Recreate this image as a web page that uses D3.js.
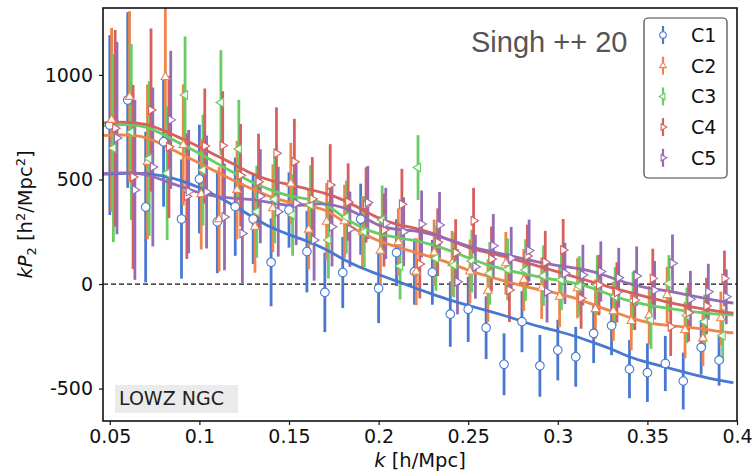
<!DOCTYPE html>
<html>
<head>
<meta charset="utf-8">
<script src="https://cdn.jsdelivr.net/npm/d3@7"></script>
<style>
  html, body { margin: 0; padding: 0; background: #fff; }
  svg { display: block; }
</style>
</head>
<body>
<svg id="chart" width="756" height="473"></svg>
<script>
// ---------------- data ----------------
const kBins = [0.05,0.06,0.07,0.08,0.09,0.10,0.11,0.12,0.13,0.14,0.15,0.16,0.17,0.18,0.19,0.20,0.21,0.22,0.23,0.24,0.25,0.26,0.27,0.28,0.29,0.30,0.31,0.32,0.33,0.34,0.35,0.36,0.37,0.38,0.39];
const seriesNames = ["C1","C2","C3","C4","C5"];
const seriesColors = ["#4878d0","#ee854a","#6acc64","#d65f5f","#956cb4"];
const seriesMarkers = ["circle","up","left","right","right"];
const kOffsets = [0, 0.001, 0.002, 0.003, 0.004];

const c1Values = [760,880,368,680,311,502,297,370,311,104,354,155,-40,55,310,-21,150,59,56,-144,-121,-209,-384,-180,-391,-316,-348,-236,-199,-407,-424,-380,-464,-303,-364];
const c1Errors = [430,420,360,310,285,260,245,235,215,210,180,195,190,170,170,166,160,158,155,156,156,150,148,146,148,145,143,142,141,139,140,132,136,130,122];
const c2Values = [785,895,584,990,665,430,310,450,274,362,480,260,298,300,250,159,200,59,150,99,60,-32,99,20,-20,-61,-20,-120,-130,-177,-150,-53,-220,-260,-164];
const c2Errors = [440,410,370,330,290,265,250,235,220,210,195,190,185,175,170,165,162,160,158,155,153,150,150,148,147,145,143,142,141,140,140,135,135,132,128];
const c3Values = [650,727,600,530,904,545,868,646,346,405,330,378,211,320,250,306,86,557,123,91,110,51,70,67,40,20,-10,-5,-60,-80,-172,3,-150,-180,-247];
const c3Errors = [450,420,370,320,280,265,250,235,220,210,195,190,185,175,170,165,160,155,155,155,150,150,148,147,145,145,143,142,141,140,138,135,133,130,128];
const c4Values = [745,512,832,656,420,660,662,520,489,625,585,407,474,392,378,258,381,96,200,150,303,120,-29,134,104,163,-68,-5,-40,-77,27,-204,-137,-105,27];
const c4Errors = [470,440,390,340,300,275,260,245,230,220,205,200,195,185,180,175,170,165,162,160,157,155,153,150,150,148,146,145,144,143,142,140,138,135,133];
const c5Values = [698,450,560,785,442,440,321,242,420,346,386,211,274,262,390,290,250,287,282,11,83,183,123,160,-37,51,43,60,30,38,-30,99,-73,-37,-61];
const c5Errors = [460,430,380,330,295,270,255,240,225,215,200,195,190,180,175,170,165,160,158,156,153,152,150,148,147,146,145,144,143,142,140,138,136,134,131];

const modelK = [0.046,0.05,0.06,0.07,0.08,0.09,0.10,0.11,0.12,0.13,0.14,0.15,0.16,0.17,0.18,0.19,0.20,0.21,0.22,0.23,0.24,0.25,0.26,0.27,0.28,0.29,0.30,0.31,0.32,0.33,0.34,0.35,0.36,0.37,0.38,0.39,0.398];
const c1Model = [525,527,530,530,518,495,462,420,372,318,268,236,205,170,118,78,45,14,-18,-48,-78,-103,-125,-150,-178,-205,-225,-250,-280,-310,-350,-375,-398,-420,-442,-460,-472];
const c2Model = [710,712,714,705,665,620,578,535,490,452,415,390,375,360,300,245,205,178,153,128,100,65,40,15,-8,-27,-45,-67,-100,-130,-160,-185,-198,-205,-213,-228,-234];
const c3Model = [755,760,765,755,715,668,626,575,528,483,448,420,408,390,320,270,238,222,210,188,160,125,92,70,50,33,18,5,-20,-55,-82,-100,-115,-127,-137,-145,-148];
const c4Model = [770,773,775,768,735,695,656,612,570,523,493,476,455,435,405,360,312,285,268,245,210,172,152,133,108,83,58,33,8,-18,-40,-62,-85,-102,-118,-132,-139];
const c5Model = [528,530,532,528,495,465,435,415,410,405,390,372,380,386,370,330,275,260,256,238,210,180,160,143,122,102,88,77,60,30,0,-20,-30,-48,-65,-82,-91];

const xTicks = [0.05,0.1,0.15,0.2,0.25,0.3,0.35,0.4];
const xTickLabels = ["0.05","0.1","0.15","0.2","0.25","0.3","0.35","0.4"];
const yTicks = [-500,0,500,1000];
const yTickLabels = ["-500","0","500","1000"];

const seriesValues = [c1Values,c2Values,c3Values,c4Values,c5Values];
const seriesErrors = [c1Errors,c2Errors,c3Errors,c4Errors,c5Errors];
const seriesModels = [c1Model,c2Model,c3Model,c4Model,c5Model];

// ---------------- layout ----------------
const W = 756, H = 473;
const L = 103, R = 737, T = 8, B = 421;
const FONT = "'DejaVu Sans', sans-serif";

const svg = d3.select("#chart");
const x = d3.scaleLinear().domain([0.0462, 0.4]).range([L, R]);
const y = d3.scaleLinear().domain([-655, 1320]).range([B, T]);

svg.append("defs").append("clipPath").attr("id","plotclip")
  .append("rect").attr("x",L).attr("y",T).attr("width",R-L).attr("height",B-T);

const plot = svg.append("g").attr("clip-path","url(#plotclip)");

// zero line
plot.append("line")
  .attr("x1",L).attr("x2",R).attr("y1",y(0)).attr("y2",y(0))
  .attr("stroke","#111").attr("stroke-width",1.3).attr("stroke-dasharray","5,3");

function markerPath(type, size) {
  if (type === "circle") return d3.symbol().type(d3.symbolCircle).size(size)();
  return d3.symbol().type(d3.symbolTriangle).size(size * 0.55)();
}
function markerRotate(type) {
  if (type === "left") return -90;
  if (type === "right") return 90;
  return 0;
}

// error bars per series
seriesNames.forEach((name, si) => {
  const g = plot.append("g");
  const pts = kBins.map((k, i) => ({k: k + kOffsets[si], v: seriesValues[si][i], e: seriesErrors[si][i]}));
  g.selectAll("line.err").data(pts).join("line")
    .attr("class","err")
    .attr("x1", d => x(d.k)).attr("x2", d => x(d.k))
    .attr("y1", d => y(d.v + d.e)).attr("y2", d => y(d.v - d.e))
    .attr("stroke", seriesColors[si]).attr("stroke-width", 2.8);
});

// model lines
const line = d3.line().x(d => x(d[0])).y(d => y(d[1])).curve(d3.curveBasis);
seriesNames.forEach((name, si) => {
  plot.append("path")
    .datum(modelK.map((k, i) => [k, seriesModels[si][i]]))
    .attr("d", line)
    .attr("fill","none")
    .attr("stroke", seriesColors[si])
    .attr("stroke-width", 2.8);
});

// markers
seriesNames.forEach((name, si) => {
  const pts = kBins.map((k, i) => ({k: k + kOffsets[si], v: seriesValues[si][i]}));
  plot.append("g").selectAll("path").data(pts).join("path")
    .attr("d", markerPath(seriesMarkers[si], 58))
    .attr("transform", d => `translate(${x(d.k)},${y(d.v)}) rotate(${markerRotate(seriesMarkers[si])})`)
    .attr("fill","#fff")
    .attr("stroke", seriesColors[si]).attr("stroke-width", 1.1);
});

// axes
const xAxis = d3.axisBottom(x).tickValues(xTicks).tickFormat((d,i) => xTickLabels[i]).tickSize(4).tickPadding(5).tickSizeOuter(0);
const yAxis = d3.axisLeft(y).tickValues(yTicks).tickFormat((d,i) => yTickLabels[i]).tickSize(4).tickPadding(6).tickSizeOuter(0);

const gx = svg.append("g").attr("transform",`translate(0,${B})`).call(xAxis);
const gy = svg.append("g").attr("transform",`translate(${L},0)`).call(yAxis);
[gx, gy].forEach(g => {
  g.select(".domain").remove();
  g.selectAll(".tick line").attr("stroke","#111").attr("stroke-width",1.2);
  g.selectAll(".tick text").attr("fill","#111").style("font-family",FONT).style("font-size","19px");
});

// frame
svg.append("rect").attr("x",L).attr("y",T).attr("width",R-L).attr("height",B-T)
  .attr("fill","none").attr("stroke","#111").attr("stroke-width",1.6);

// axis labels
const xl = svg.append("text").attr("x",(L+R)/2).attr("y",467).attr("text-anchor","middle")
  .style("font-family",FONT).style("font-size","19.5px").attr("fill","#111");
xl.append("tspan").attr("font-style","italic").text("k");
xl.append("tspan").text(" [h/Mpc]");

const yl = svg.append("text").attr("transform",`translate(32,${(T+B)/2}) rotate(-90)`)
  .attr("text-anchor","middle")
  .style("font-family",FONT).style("font-size","19.5px").attr("fill","#111");
yl.append("tspan").attr("font-style","italic").text("kP");
yl.append("tspan").attr("font-size","13px").attr("dy","4").text("2");
yl.append("tspan").attr("dy","-4").text(" [h");
yl.append("tspan").attr("font-size","13px").attr("dy","-7").text("2");
yl.append("tspan").attr("dy","7").text("/Mpc");
yl.append("tspan").attr("font-size","13px").attr("dy","-7").text("2");
yl.append("tspan").attr("dy","7").text("]");

// annotation
svg.append("text").attr("x",471).attr("y",52)
  .style("font-family","'Liberation Sans', Arial, sans-serif").style("font-size","29px")
  .attr("fill","#555").text("Singh ++ 20");

// LOWZ NGC box
svg.append("rect").attr("x",115).attr("y",385).attr("width",123).attr("height",28).attr("fill","#ebebeb");
svg.append("text").attr("x",119).attr("y",405)
  .style("font-family",FONT).style("font-size","19px").attr("fill","#222").text("LOWZ NGC");

// legend
const lg = svg.append("g");
lg.append("rect").attr("x",644).attr("y",18).attr("width",83).attr("height",160).attr("rx",4)
  .attr("fill","#fff").attr("stroke","#444").attr("stroke-width",1.2);
seriesNames.forEach((name, si) => {
  const cy = 35 + si * 30.7;
  lg.append("line").attr("x1",663).attr("x2",663).attr("y1",cy-9).attr("y2",cy+9)
    .attr("stroke",seriesColors[si]).attr("stroke-width",2.2);
  lg.append("path").attr("d", markerPath(seriesMarkers[si], 34))
    .attr("transform",`translate(663,${cy}) rotate(${markerRotate(seriesMarkers[si])})`)
    .attr("fill","#fff").attr("stroke",seriesColors[si]).attr("stroke-width",1.1);
  lg.append("text").attr("x",691).attr("y",cy).attr("dy","0.36em")
    .style("font-family",FONT).style("font-size","19px").attr("fill","#111").text(name);
});
</script>
</body>
</html>
